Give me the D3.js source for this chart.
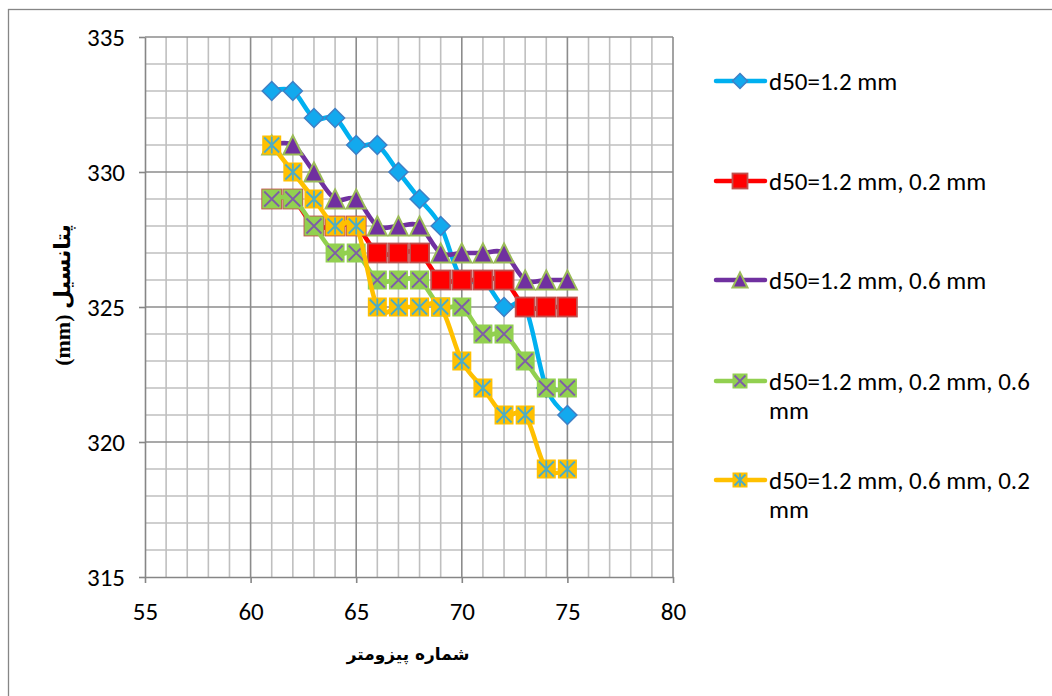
<!DOCTYPE html>
<html>
<head>
<meta charset="utf-8">
<script src="https://cdn.jsdelivr.net/npm/d3@7"></script>
<style>
  html, body { margin: 0; padding: 0; background: #ffffff; }
  svg { display: block; }
</style>
</head>
<body>
<svg id="chart" width="1052" height="696"></svg>
<script>
// ---- data ----
const piezometers = [61, 62, 63, 64, 65, 66, 67, 68, 69, 70, 71, 72, 73, 74, 75];
const s1Values = [333, 333, 332, 332, 331, 331, 330, 329, 328, 326, 326, 325, 325, 322, 321];
const s2Values = [329, 329, 328, 328, 328, 327, 327, 327, 326, 326, 326, 326, 325, 325, 325];
const s3Values = [331, 331, 330, 329, 329, 328, 328, 328, 327, 327, 327, 327, 326, 326, 326];
const s4Values = [329, 329, 328, 327, 327, 326, 326, 326, 325, 325, 324, 324, 323, 322, 322];
const s5Values = [331, 330, 329, 328, 328, 325, 325, 325, 325, 323, 322, 321, 321, 319, 319];
const seriesNames = [
  "d50=1.2 mm",
  "d50=1.2 mm, 0.2 mm",
  "d50=1.2 mm, 0.6 mm",
  "d50=1.2 mm, 0.2 mm, 0.6 mm",
  "d50=1.2 mm, 0.6 mm, 0.2 mm"
];
const xTicks = [55, 60, 65, 70, 75, 80];
const yTicks = [315, 320, 325, 330, 335];
const xTitle = "شماره پیزومتر";
const yTitle = "(mm) پتانسیل";

// ---- styles ----
const styles = [
  {line: "#00B0F0", marker: "diamond", fill: "#12A9EE", stroke: "#3F7FC5"},
  {line: "#FF0000", marker: "square", fill: "#FF0000", stroke: "#C0504D"},
  {line: "#7030A0", marker: "triangle", fill: "#7030A0", stroke: "#9BBB59"},
  {line: "#92D050", marker: "xmark", fill: "#92D050", stroke: "#7E5DA8"},
  {line: "#FFC000", marker: "star", fill: "#FFC000", stroke: "#4BACC6"}
];
const allValues = [s1Values, s2Values, s3Values, s4Values, s5Values];

const svg = d3.select("#chart");
const FONT = "Carlito, Calibri, 'Open Sans', sans-serif";

// chart border
svg.append("rect").attr("x", 8.5).attr("y", 9.5).attr("width", 1100).attr("height", 800)
  .attr("fill", "#fff").attr("stroke", "#868686").attr("stroke-width", 1.3);

const x = d3.scaleLinear().domain([55, 80]).range([145, 673]);
const y = d3.scaleLinear().domain([315, 335]).range([577, 37]);

// gridlines
const grid = svg.append("g");
d3.range(56, 80).filter(v => v % 5 !== 0).forEach(v => {
  grid.append("line").attr("x1", x(v)).attr("x2", x(v)).attr("y1", y(335)).attr("y2", y(315))
    .attr("stroke", "#BFBFBF").attr("stroke-width", 1.6);
});
d3.range(316, 335).filter(v => v % 5 !== 0).forEach(v => {
  grid.append("line").attr("x1", x(55)).attr("x2", x(80)).attr("y1", y(v)).attr("y2", y(v))
    .attr("stroke", "#BFBFBF").attr("stroke-width", 1.6);
});
xTicks.filter(v => v !== 55).forEach(v => {
  grid.append("line").attr("x1", x(v)).attr("x2", x(v)).attr("y1", y(335)).attr("y2", y(315))
    .attr("stroke", "#8C8C8C").attr("stroke-width", 1.6);
});
yTicks.filter(v => v !== 315).forEach(v => {
  grid.append("line").attr("x1", x(55)).attr("x2", x(80)).attr("y1", y(v)).attr("y2", y(v))
    .attr("stroke", "#8C8C8C").attr("stroke-width", 1.6);
});

// axes
const yAxis = svg.append("g").attr("transform", `translate(${x(55)},0)`)
  .call(d3.axisLeft(y).tickValues(yTicks).tickSize(6).tickSizeOuter(0).tickPadding(14).tickFormat(d3.format("d")));
const xAxis = svg.append("g").attr("transform", `translate(0,${y(315)})`)
  .call(d3.axisBottom(x).tickValues(xTicks).tickSize(6).tickSizeOuter(0).tickPadding(19).tickFormat(d3.format("d")));
[xAxis, yAxis].forEach(a => {
  a.select(".domain").attr("stroke", "#868686").attr("stroke-width", 1.6);
  a.selectAll(".tick line").attr("stroke", "#868686").attr("stroke-width", 1.6);
  a.selectAll(".tick text").attr("font-family", FONT).attr("font-size", 25).attr("fill", "#000");
});

// axis titles
svg.append("text").attr("x", 408).attr("y", 660).attr("text-anchor", "middle")
  .attr("font-family", "'DejaVu Sans', sans-serif").attr("font-weight", "bold").attr("font-size", 17)
  .attr("fill", "#000").text(xTitle);
svg.append("text").attr("transform", "translate(70,295) rotate(-90)").attr("text-anchor", "middle")
  .attr("font-family", "'Liberation Serif', 'Times New Roman', 'DejaVu Sans', serif").attr("font-weight", "bold")
  .attr("font-size", 22).attr("fill", "#000").text(yTitle);

// markers
function drawMarker(g, st, s) {
  const h = s / 2;
  if (st.marker === "diamond") {
    g.append("path").attr("d", `M0,${-h}L${h},0L0,${h}L${-h},0Z`)
      .attr("fill", st.fill).attr("stroke", st.stroke).attr("stroke-width", 1.5);
  } else if (st.marker === "square") {
    g.append("rect").attr("x", -h).attr("y", -h).attr("width", s).attr("height", s)
      .attr("fill", st.fill).attr("stroke", st.stroke).attr("stroke-width", 1.8);
  } else if (st.marker === "triangle") {
    g.append("path").attr("d", `M0,${-h}L${h},${h}L${-h},${h}Z`)
      .attr("fill", st.fill).attr("stroke", st.stroke).attr("stroke-width", 2);
  } else if (st.marker === "xmark") {
    g.append("rect").attr("x", -h).attr("y", -h).attr("width", s).attr("height", s).attr("fill", st.fill);
    const k = h - 2;
    g.append("path").attr("d", `M${-k},${-k}L${k},${k}M${k},${-k}L${-k},${k}`)
      .attr("stroke", st.stroke).attr("stroke-width", 1.8).attr("fill", "none");
  } else if (st.marker === "star") {
    g.append("rect").attr("x", -h).attr("y", -h).attr("width", s).attr("height", s).attr("fill", st.fill);
    const k = h - 2;
    g.append("path").attr("d", `M${-k},${-k}L${k},${k}M${k},${-k}L${-k},${k}M0,${-h+1}L0,${h-1}`)
      .attr("stroke", st.stroke).attr("stroke-width", 1.8).attr("fill", "none");
  }
}

const line = d3.line().x(d => x(d[0])).y(d => y(d[1])).curve(d3.curveCatmullRom.alpha(0));

allValues.forEach((vals, i) => {
  const st = styles[i];
  const pts = piezometers.map((p, j) => [p, vals[j]]);
  const g = svg.append("g");
  g.append("path").datum(pts).attr("d", line).attr("fill", "none")
    .attr("stroke", st.line).attr("stroke-width", 4.5).attr("stroke-linejoin", "round").attr("stroke-linecap", "round");
  pts.forEach(p => {
    const mg = g.append("g").attr("transform", `translate(${x(p[0])},${y(p[1])})`);
    drawMarker(mg, st, 19);
  });
});

// legend
const legendY = [81, 181, 280, 381, 480];
const legendLines = [
  ["d50=1.2 mm"],
  ["d50=1.2 mm, 0.2 mm"],
  ["d50=1.2 mm, 0.6 mm"],
  ["d50=1.2 mm, 0.2 mm, 0.6", "mm"],
  ["d50=1.2 mm, 0.6 mm, 0.2", "mm"]
];
seriesNames.forEach((name, i) => {
  const st = styles[i];
  const g = svg.append("g").attr("transform", `translate(0,${legendY[i]})`);
  g.append("line").attr("x1", 716).attr("x2", 765).attr("y1", 0).attr("y2", 0)
    .attr("stroke", st.line).attr("stroke-width", 4.5).attr("stroke-linecap", "round");
  const mg = g.append("g").attr("transform", "translate(740,0)");
  drawMarker(mg, st, 15);
  const t = g.append("text").attr("x", 769).attr("y", 9).attr("font-family", FONT)
    .attr("font-size", 25).attr("fill", "#000");
  legendLines[i].forEach((ln, k) => {
    t.append("tspan").attr("x", 769).attr("dy", k === 0 ? 0 : 29).text(ln);
  });
});
</script>
</body>
</html>
